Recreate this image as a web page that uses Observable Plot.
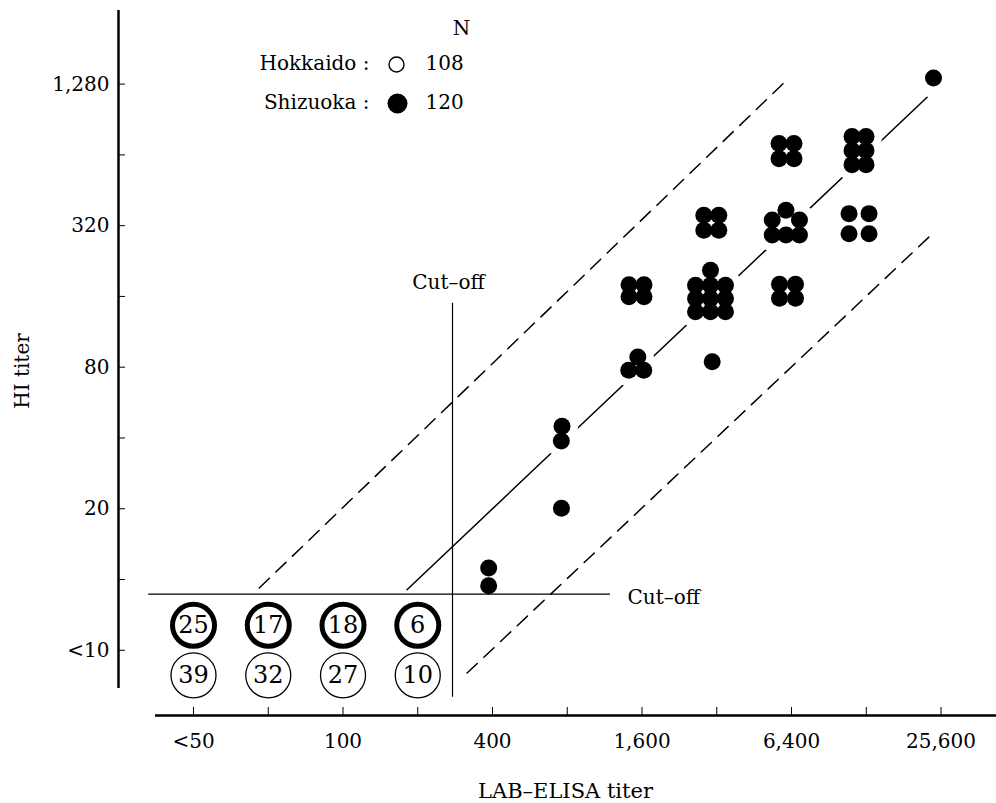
<!DOCTYPE html>
<html>
<head>
<meta charset="utf-8">
<script src="https://cdn.jsdelivr.net/npm/d3@7"></script>
<script src="https://cdn.jsdelivr.net/npm/@observablehq/plot@0.6"></script>
<style>
  html, body { margin: 0; padding: 0; background: #fff; }
  #chart svg { display: block; }
</style>
</head>
<body>
<div id="chart"></div>
<script>
// ---- axis ticks ----
const elisaTicks = [25, 50, 100, 200, 400, 800, 1600, 3200, 6400, 12800, 25600];
const elisaTickLabels = ["<50", "", "100", "", "400", "", "1,600", "", "6,400", "", "25,600"];
const hiTicks = [5, 10, 20, 40, 80, 160, 320, 640, 1280];
const hiTickLabels = ["<10", "", "20", "", "80", "", "320", "", "1,280"];

// ---- negatives (counts in circles) ----
const negElisa = [25, 50, 100, 200];          // <50, 50, 100, 200
const negHI = [5, 5, 5, 5];                   // <10
const shizuokaNeg = [25, 17, 18, 6];
const hokkaidoNeg = [39, 32, 27, 10];

// ---- Shizuoka positive sera (individual dots, titers) ----
const shizuokaElisa = [
  386, 386,
  758, 762, 757,
  1539, 1415, 1626,
  1418, 1630, 1418, 1630,
  3067,
  3019, 2628, 3019, 3469, 2628, 3019, 3469, 2628, 3019, 3469,
  2838, 3261, 2838, 3261,
  6080, 5351, 6890, 5351, 6080, 6890,
  5725, 6641, 5725, 6641,
  5700, 6548, 5700, 6548,
  11215, 12770, 11215, 12770, 11215, 12770,
  10909, 13133, 10909, 13133,
  23880
];
const shizuokaHI = [
  11.2, 9.4,
  20.1, 44.9, 38.8,
  88.5, 77.7, 77.7,
  179.5, 179.5, 159.6, 159.6,
  84.3,
  206.9, 178.7, 178.7, 178.7, 156.8, 156.8, 156.8, 137.6, 137.6, 137.6,
  354.7, 354.7, 306.1, 306.1,
  372.5, 337.9, 337.9, 291.7, 291.7, 291.7,
  180.4, 180.4, 157.3, 157.3,
  714.8, 714.8, 616.9, 616.9,
  765.3, 765.3, 667.2, 667.2, 581.7, 581.7,
  360, 360, 295.9, 295.9,
  1358
];

// ---- reference lines ----
const solidElisa = [181, 22500];  const solidHI = [9.05, 1125];   // HI = ELISA/20
const upperElisa = [46, 5940];    const upperHI = [9.2, 1290];    // HI = ELISA/5
const lowerElisa = [316, 24000];  const lowerHI = [4.0, 300];     // HI = ELISA/80
const cutoffElisa = 276;  const cutoffElisaHIRange = [3.16, 149.8];
const cutoffHI = 8.66;    const cutoffHIElisaRange = [16.5, 1195];

// ---- legend ----
const legendNames = ["Hokkaido :", "Shizuoka :"];
const legendN = [108, 120];
const legendFilled = [false, true];

// ---- build tables ----
const dots = shizuokaElisa.map((e, i) => ({elisa: e, hi: shizuokaHI[i]}));
const pairs = (xs, ys) => xs.map((x, i) => ({elisa: x, hi: ys[i]}));
const negS = negElisa.map((e, i) => ({elisa: e, hi: negHI[i], n: shizuokaNeg[i]}));
const negH = negElisa.map((e, i) => ({elisa: e, hi: negHI[i], n: hokkaidoNeg[i]}));
const xLab = new Map(elisaTicks.map((t, i) => [t, elisaTickLabels[i]]));
const yLab = new Map(hiTicks.map((t, i) => [t, hiTickLabels[i]]));

const FONT = "DejaVu Serif";
const X0 = 12.47, X1 = 42823, Y0 = 2.64, Y1 = 2632;

// legend marks (one row per series)
const legendMarks = legendNames.flatMap((name, i) => {
  const dy = 53 + i * 39;
  return [
    Plot.text([name], {frameAnchor: "top-left", text: d => d, textAnchor: "end", lineAnchor: "middle", dx: 251, dy, fontSize: 20}),
    Plot.dot([name], {frameAnchor: "top-left", dx: legendFilled[i] ? 279 : 278, dy: dy + 1, r: legendFilled[i] ? 10 : 7.5,
      fill: legendFilled[i] ? "black" : "white", stroke: "black", strokeWidth: legendFilled[i] ? 0 : 1.4}),
    Plot.text([legendN[i]], {frameAnchor: "top-left", text: d => String(d), textAnchor: "start", lineAnchor: "middle", dx: 307, dy, fontSize: 20})
  ];
});

const chart = Plot.plot({
  width: 996,
  height: 803,
  marginLeft: 118,
  marginRight: 0,
  marginTop: 10,
  marginBottom: 88,
  x: {type: "log", base: 2, domain: [X0, X1]},
  y: {type: "log", base: 2, domain: [Y0, Y1]},
  style: {fontFamily: FONT, background: "white", color: "black"},
  marks: [
    // solid 1:20 line
    Plot.line(pairs(solidElisa, solidHI), {x: "elisa", y: "hi", stroke: "black", strokeWidth: 1.5}),
    // white halos (gaps in the solid line around dots)
    Plot.dot(dots, {x: "elisa", y: "hi", r: 16, fill: "white"}),
    // dashed lines
    Plot.line(pairs(upperElisa, upperHI), {x: "elisa", y: "hi", stroke: "black", strokeWidth: 1.5, strokeDasharray: "14,9"}),
    Plot.line(pairs(lowerElisa, lowerHI), {x: "elisa", y: "hi", stroke: "black", strokeWidth: 1.5, strokeDasharray: "14,9"}),
    // cut-off lines
    Plot.ruleX([cutoffElisa], {y1: cutoffElisaHIRange[0], y2: cutoffElisaHIRange[1], stroke: "black", strokeWidth: 1.2}),
    Plot.ruleY([cutoffHI], {x1: cutoffHIElisaRange[0], x2: cutoffHIElisaRange[1], stroke: "black", strokeWidth: 1.2}),
    Plot.text(["Cut–off"], {x: cutoffElisa, y: cutoffElisaHIRange[1], text: d => d, dx: -4, dy: -21, fontSize: 20}),
    Plot.text(["Cut–off"], {x: cutoffHIElisaRange[1], y: cutoffHI, text: d => d, textAnchor: "start", dx: 17, dy: 3, fontSize: 20}),
    // positive dots
    Plot.dot(dots, {x: "elisa", y: "hi", r: 8.5, fill: "black"}),
    // negative counts
    Plot.dot(negS, {x: "elisa", y: "hi", r: 21, fill: "white", stroke: "black", strokeWidth: 5, dy: -25}),
    Plot.text(negS, {x: "elisa", y: "hi", text: "n", dy: -25, fontSize: 24}),
    Plot.dot(negH, {x: "elisa", y: "hi", r: 22.5, fill: "white", stroke: "black", strokeWidth: 1.3, dy: 25}),
    Plot.text(negH, {x: "elisa", y: "hi", text: "n", dy: 25, fontSize: 24}),
    // axis lines
    Plot.ruleX([X0], {stroke: "black", strokeWidth: 2.5, insetBottom: 27}),
    Plot.ruleY([Y0], {stroke: "black", strokeWidth: 2.5, insetLeft: 37}),
    // axes
    Plot.axisX({ticks: elisaTicks, tickFormat: d => xLab.get(d), tickSize: -8, tickPadding: 26, fontSize: 20, label: null}),
    Plot.axisY({ticks: hiTicks, tickFormat: d => yLab.get(d), tickSize: -7, tickPadding: 16, fontSize: 20, label: null}),
    // axis titles
    Plot.text(["HI titer"], {frameAnchor: "left", text: d => d, textAnchor: "middle", lineAnchor: "middle", rotate: -90, dx: -96, dy: 8, fontSize: 20}),
    Plot.text(["LAB–ELISA titer"], {frameAnchor: "bottom", text: d => d, textAnchor: "middle", lineAnchor: "middle", dx: 8, dy: 76, fontSize: 21}),
    // legend
    Plot.text(["N"], {frameAnchor: "top-left", text: d => d, textAnchor: "middle", lineAnchor: "middle", dx: 343, dy: 18, fontSize: 20}),
    ...legendMarks
  ]
});
document.getElementById("chart").appendChild(chart);
</script>
</body>
</html>
